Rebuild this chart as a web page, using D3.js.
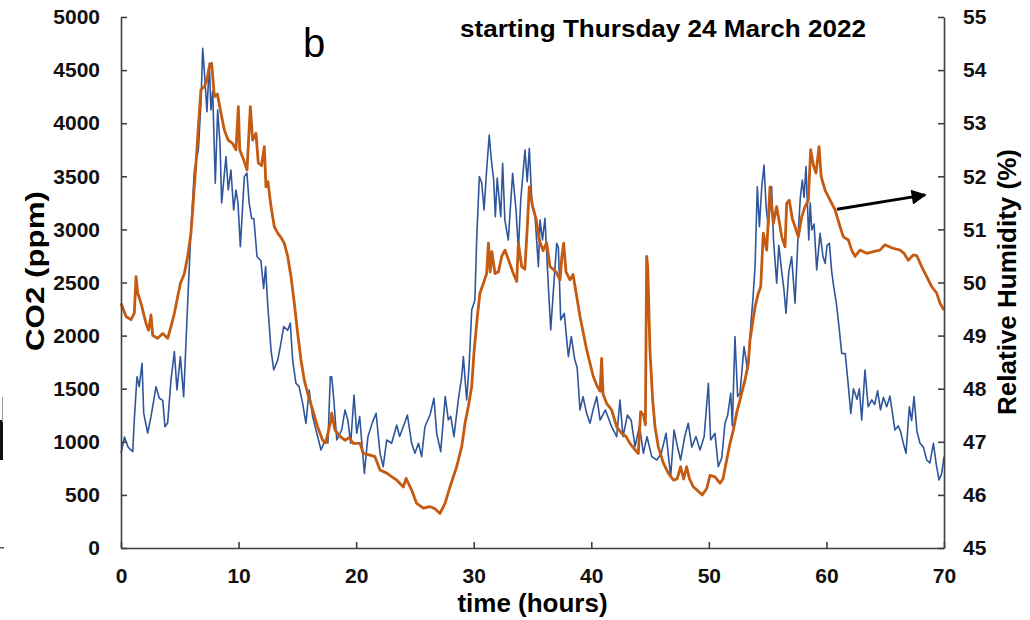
<!DOCTYPE html>
<html>
<head>
<meta charset="utf-8">
<script src="https://cdn.jsdelivr.net/npm/d3@7"></script>
<style>
  html, body { margin: 0; padding: 0; background: #fff; }
  svg { display: block; font-family: "Liberation Sans", Arial, sans-serif; }
  .axis path, .axis line { stroke: #404040; stroke-width: 1.6; }
  .axis text { font-size: 21px; font-weight: bold; fill: #111; font-family: "Liberation Sans", Arial, sans-serif; }
</style>
</head>
<body>
<div id="chart"></div>
<script>
// CO2 (blue), hours vs ppm
var co2Hours = [0,0.3,0.6,1.0,1.13,1.36,1.55,1.79,1.93,2.27,2.55,2.98,3.26,3.55,3.74,3.97,4.25,4.54,4.76,5.05,5.33,5.67,5.95,6.24,6.58,6.8,6.95,7.1,7.31,7.51,7.65,7.8,8.02,8.22,8.42,8.56,8.93,9.12,9.35,9.58,9.78,9.95,10.15,10.49,10.71,10.9,11.11,11.3,11.57,11.9,12.13,12.3,12.47,12.76,12.99,13.33,13.55,13.84,14.18,14.4,14.6,14.88,15.15,15.45,15.73,16.0,16.3,16.73,17.01,17.35,17.6,17.8,17.92,18.1,18.35,18.77,19.05,19.3,19.54,19.82,20.05,20.3,20.7,21.0,21.41,21.7,22.03,22.3,22.6,23.02,23.45,23.7,23.96,24.36,24.72,25.0,25.3,25.57,25.85,26.28,26.62,26.85,27.19,27.58,27.84,28.05,28.32,28.69,28.98,29.12,29.4,29.6,29.83,30.1,30.26,30.48,30.68,30.88,31.1,31.32,31.5,31.7,31.84,32.0,32.3,32.46,32.65,32.94,33.31,33.6,33.8,34.0,34.36,34.55,34.73,34.95,35.2,35.5,35.64,35.85,36.06,36.35,36.55,36.8,37.06,37.2,37.4,37.7,38.05,38.3,38.6,38.8,39.04,39.3,39.6,39.89,40.15,40.46,40.75,41.2,41.73,42.16,42.44,42.7,43.07,43.4,43.72,44.1,44.43,44.74,45.14,45.57,45.95,46.36,46.75,47.04,47.3,47.6,47.95,48.25,48.55,48.9,49.25,49.6,49.96,50.15,50.52,50.8,51.1,51.37,51.6,51.86,52.0,52.22,52.45,52.65,52.99,53.3,53.56,53.75,53.93,54.12,54.3,54.5,54.69,54.88,55.06,55.34,55.5,55.77,55.95,56.2,56.39,56.56,56.8,57.04,57.33,57.6,57.78,57.95,58.1,58.26,58.5,58.62,58.75,58.95,59.17,59.46,59.7,59.89,60.05,60.25,60.45,60.62,60.85,61.1,61.3,61.6,61.87,62.07,62.3,62.6,62.8,63.0,63.28,63.55,63.86,64.1,64.35,64.6,64.85,65.13,65.4,65.83,66.1,66.3,66.54,66.77,67.05,67.25,67.45,67.7,67.96,68.25,68.53,68.8,69.1,69.35,69.58,69.8,70]
var co2Ppm = [895,1045,950,907,1205,1613,1519,1740,1270,1083,1237,1519,1410,1390,1142,1180,1582,1849,1488,1802,1425,2305,2994,3559,3748,4190,4705,4472,4109,4563,4124,4300,3434,4124,3813,3248,3685,3371,3559,3183,3371,3250,2837,3497,3531,3250,3104,3100,2743,2705,2445,2650,2304,1864,1676,1770,1896,2084,2050,2118,1770,1551,1520,1362,1174,1488,1237,1048,923,1016,990,1613,1613,1400,1017,1111,1299,1200,986,1441,1080,1237,703,1048,1190,1268,892,766,1017,986,1158,1050,1127,1252,986,892,986,860,1142,1252,1410,1080,907,1425,1206,1240,1048,1394,1613,1802,1394,1700,2241,2335,2931,3497,3440,3183,3559,3889,3653,3465,3120,3484,3120,3622,3088,2900,3528,3183,2806,3277,3748,3450,3763,3245,3150,2649,3089,2900,3104,2461,2053,2461,2869,2830,2147,2210,1802,1990,1770,1700,1299,1425,1268,1174,1300,1425,1205,1300,1142,1048,1394,1048,1252,1200,954,1150,892,1048,860,829,890,1080,672,1111,970,829,1050,1174,950,1050,923,1050,1551,1017,1080,766,850,1174,1250,1457,1150,1990,1425,1457,1896,1676,2084,2350,2649,3402,3026,3400,3606,3200,3026,3402,2900,2493,2850,2600,2429,2210,2600,2743,2304,2963,3300,3465,3300,3591,2900,3250,2994,3050,2618,2963,2750,2680,2850,2869,2600,2461,2300,2053,1833,1830,1519,1268,1500,1400,1500,1205,1676,1330,1394,1350,1480,1300,1420,1330,1430,1111,1150,1100,986,892,1330,1200,1425,1100,986,950,829,800,986,780,640,700,860]

// Relative humidity (orange), hours vs %
var rhHours = [0,0.43,0.85,1.13,1.28,1.42,1.7,2.13,2.35,2.55,2.7,3.12,3.55,3.97,4.25,4.54,4.82,5.05,5.39,5.67,5.95,6.18,6.38,6.58,6.8,7.09,7.31,7.5,7.71,7.94,8.2,8.45,8.79,9.12,9.49,9.78,9.98,10.1,10.43,10.72,11.0,11.2,11.48,11.68,11.95,12.19,12.33,12.5,12.76,13.04,13.33,13.6,13.89,14.18,14.46,14.74,15.03,15.31,15.59,15.88,16.3,16.73,17.15,17.4,17.6,17.86,17.92,18.2,18.63,19.05,19.4,19.76,20.33,20.61,21.18,21.6,22.03,22.6,23.45,24.01,24.25,24.72,25.15,25.72,26.28,26.7,27.13,27.56,27.98,28.55,28.98,29.26,29.54,29.83,30.02,30.31,30.53,30.82,31.1,31.25,31.4,31.55,31.81,32.1,32.38,32.66,33.0,33.37,33.66,33.8,34.08,34.35,34.56,34.73,35.01,35.3,35.58,35.9,36.2,36.49,37.0,37.34,37.5,37.65,37.85,38.19,38.45,38.81,39.04,39.33,39.61,39.89,40.17,40.51,40.75,40.88,41.0,41.31,41.73,42.16,42.59,42.95,43.29,43.72,44.0,44.2,44.45,44.6,44.71,44.8,44.99,45.22,45.42,45.7,46.13,46.55,46.98,47.3,47.6,47.85,48.11,48.35,48.68,49.05,49.44,49.82,50.1,50.52,50.95,51.2,51.52,51.8,52.08,52.36,52.65,53.07,53.36,53.5,53.93,54.21,54.41,54.63,54.92,55.2,55.48,55.77,56.2,56.48,56.62,56.84,57.1,57.33,57.61,57.9,58.18,58.46,58.66,58.9,59.11,59.37,59.55,59.88,60.31,60.73,61.16,61.44,61.87,62.15,62.43,62.86,63.42,64.0,64.55,64.98,65.6,66.26,66.6,66.96,67.39,67.7,68.1,68.53,68.96,69.38,69.66,70]
var rhPct = [49.61,49.36,49.3,49.42,50.11,49.8,49.61,49.23,49.1,49.39,49.0,48.95,49.04,48.95,49.17,49.42,49.73,49.98,50.17,50.49,50.93,51.62,52.25,52.93,53.63,53.69,53.81,54.06,54.13,53.5,53.55,53.25,52.87,52.68,52.62,52.5,53.31,52.5,52.31,52.12,53.31,52.68,52.81,52.25,52.2,52.56,51.8,51.9,51.43,51.05,50.93,50.85,50.74,50.49,50.11,49.61,49.04,48.54,48.16,47.91,47.6,47.28,47.03,46.98,47.16,47.41,47.54,47.22,47.1,47.03,47.08,46.97,46.97,46.78,46.75,46.72,46.47,46.41,46.28,46.15,46.31,46.09,45.84,45.75,45.78,45.74,45.65,45.84,46.15,46.53,46.91,47.35,47.66,48.04,48.67,49.36,49.8,49.98,50.17,50.74,50.2,50.58,50.17,50.2,50.49,50.61,50.4,50.17,50.02,50.74,50.3,50.25,51.05,51.8,51.43,51.2,50.8,50.6,50.75,50.3,50.2,50.05,50.49,50.74,50.2,50.05,50.15,49.67,49.36,49.04,48.73,48.48,48.23,48.04,47.95,48.57,47.9,47.72,47.6,47.28,47.16,47.1,46.97,46.85,46.78,47.57,47.5,47.32,50.49,50.3,48.73,47.79,47.28,46.91,46.6,46.41,46.28,46.3,46.53,46.3,46.53,46.3,46.15,46.08,46.0,46.12,46.37,46.34,46.22,46.3,46.66,46.97,47.22,47.54,47.79,48.16,48.48,48.92,49.54,49.8,49.92,50.93,50.61,51.8,51.11,51.43,50.86,50.67,51.49,51.55,51.2,51.05,50.86,51.24,51.43,51.55,52.5,52.2,52.06,52.56,52.0,51.74,51.55,51.37,51.05,50.86,50.8,50.61,50.49,50.61,50.55,50.58,50.61,50.71,50.65,50.61,50.55,50.42,50.52,50.5,50.3,50.11,49.92,49.8,49.61,49.48]

var xTicks = [0, 10, 20, 30, 40, 50, 60, 70]
var co2Ticks = [0, 500, 1000, 1500, 2000, 2500, 3000, 3500, 4000, 4500, 5000]
var rhTicks = [45, 46, 47, 48, 49, 50, 51, 52, 53, 54, 55]

// arrow pointing the humidity line to its axis (hours, %RH)
var arrowFrom = [60.9, 51.38]
var arrowTo = [68.4, 51.65]

var panelLabel = "b"
var titleText = "starting Thursday 24 March 2022"

var width = 1030
var height = 620
var dimensions = {
  width: width,
  height: height,
  margin: { top: 17, right: 86, bottom: 72, left: 121 }
}
dimensions.boundedWidth = dimensions.width - dimensions.margin.left - dimensions.margin.right
dimensions.boundedHeight = dimensions.height - dimensions.margin.top - dimensions.margin.bottom

var wrapper = d3.select("#chart")
  .append("svg")
  .attr("width", dimensions.width)
  .attr("height", dimensions.height)

var bounds = wrapper.append("g")
  .attr("transform", `translate(${dimensions.margin.left},${dimensions.margin.top})`)

var xScale = d3.scaleLinear()
  .domain([0, 70])
  .range([0, dimensions.boundedWidth])

var co2Scale = d3.scaleLinear()
  .domain([0, 5000])
  .range([dimensions.boundedHeight, 0])

var rhScale = d3.scaleLinear()
  .domain([45, 55])
  .range([dimensions.boundedHeight, 0])

var co2Data = co2Hours.map((h, i) => ({ h: h, v: co2Ppm[i] }))
var rhData = rhHours.map((h, i) => ({ h: h, v: rhPct[i] }))

// lines
var co2Line = d3.line()
  .x(d => xScale(d.h))
  .y(d => co2Scale(d.v))

var rhLine = d3.line()
  .x(d => xScale(d.h))
  .y(d => rhScale(d.v))

bounds.append("path")
  .datum(co2Data)
  .attr("fill", "none")
  .attr("stroke", "#2F559A")
  .attr("stroke-width", 1.6)
  .attr("stroke-linejoin", "round")
  .attr("d", co2Line)

bounds.append("path")
  .datum(rhData)
  .attr("fill", "none")
  .attr("stroke", "#C55A11")
  .attr("stroke-width", 2.8)
  .attr("stroke-linejoin", "round")
  .attr("d", rhLine)

// axes, ticks point inward
var xAxisGenerator = d3.axisBottom(xScale)
  .tickValues(xTicks)
  .tickFormat(d3.format("d"))
  .tickSizeInner(-6)
  .tickSizeOuter(0)
  .tickPadding(20)

var yAxisGenerator = d3.axisLeft(co2Scale)
  .tickValues(co2Ticks)
  .tickFormat(d3.format("d"))
  .tickSizeInner(-6)
  .tickSizeOuter(0)
  .tickPadding(21)

var y2AxisGenerator = d3.axisRight(rhScale)
  .tickValues(rhTicks)
  .tickFormat(d3.format("d"))
  .tickSizeInner(-6)
  .tickSizeOuter(0)
  .tickPadding(19)

bounds.append("g")
  .attr("class", "x axis")
  .attr("transform", `translate(0,${dimensions.boundedHeight})`)
  .call(xAxisGenerator)

bounds.append("g")
  .attr("class", "y axis")
  .call(yAxisGenerator)

bounds.append("g")
  .attr("class", "y2 axis")
  .attr("transform", `translate(${dimensions.boundedWidth},0)`)
  .call(y2AxisGenerator)

// axis titles
bounds.append("text")
  .attr("x", dimensions.boundedWidth / 2)
  .attr("y", dimensions.boundedHeight + 64)
  .attr("text-anchor", "middle")
  .style("font-size", "26px")
  .style("font-weight", "bold")
  .text("time (hours)")

wrapper.append("text")
  .attr("transform", "translate(44,271) rotate(-90)")
  .attr("text-anchor", "middle")
  .attr("textLength", 160)
  .attr("lengthAdjust", "spacingAndGlyphs")
  .style("font-size", "26px")
  .style("font-weight", "bold")
  .text("CO2 (ppm)")

wrapper.append("text")
  .attr("transform", "translate(1016,282) rotate(-90)")
  .attr("text-anchor", "middle")
  .style("font-size", "26px")
  .style("font-weight", "bold")
  .text("Relative Humidity (%)")

// panel letter and date
wrapper.append("text")
  .attr("x", 303)
  .attr("y", 57)
  .style("font-size", "40px")
  .text(panelLabel)

wrapper.append("text")
  .attr("x", 460)
  .attr("y", 37)
  .attr("textLength", 406)
  .attr("lengthAdjust", "spacingAndGlyphs")
  .style("font-size", "23px")
  .style("font-weight", "bold")
  .text(titleText)

// arrow
wrapper.append("defs").append("marker")
  .attr("id", "head")
  .attr("viewBox", "0 0 10 10")
  .attr("refX", 9)
  .attr("refY", 5)
  .attr("markerWidth", 6)
  .attr("markerHeight", 5)
  .attr("markerUnits", "strokeWidth")
  .attr("orient", "auto")
  .append("path")
  .attr("d", "M0,0 L10,5 L0,10 z")
  .attr("fill", "#000")

bounds.append("line")
  .attr("x1", xScale(arrowFrom[0]))
  .attr("y1", rhScale(arrowFrom[1]))
  .attr("x2", xScale(arrowTo[0]))
  .attr("y2", rhScale(arrowTo[1]))
  .attr("stroke", "#000")
  .attr("stroke-width", 3)
  .attr("marker-end", "url(#head)")

// clipped edge of the neighbouring panel
wrapper.append("rect").attr("x", 0).attr("y", 420).attr("width", 3).attr("height", 40).attr("fill", "#111")
wrapper.append("rect").attr("x", 2).attr("y", 397).attr("width", 1).attr("height", 25).attr("fill", "#999")
wrapper.append("rect").attr("x", 0).attr("y", 547).attr("width", 4).attr("height", 1.5).attr("fill", "#555")
</script>
</body>
</html>
